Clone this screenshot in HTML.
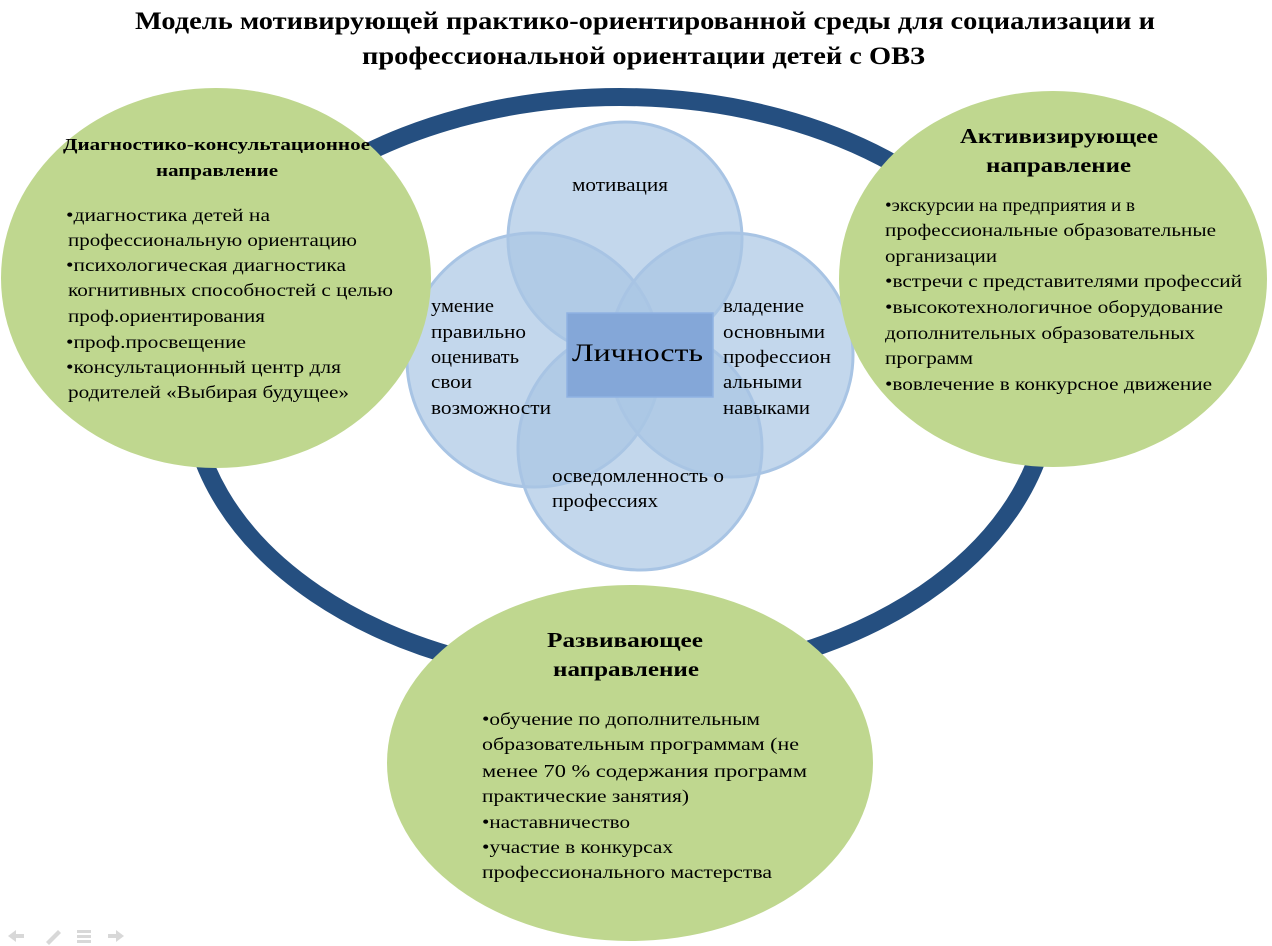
<!DOCTYPE html>
<html><head><meta charset="utf-8"><style>
html,body{margin:0;padding:0;background:#fff;}
svg{display:block;}
text{font-family:"Liberation Serif","Noto Serif CJK SC",serif;fill:#000;}
</style></head><body>
<svg width="1272" height="946" viewBox="0 0 1272 946" xmlns="http://www.w3.org/2000/svg">
<rect width="1272" height="946" fill="#fff"/>
<text x="135" y="29" font-weight="bold" font-size="25" textLength="1020" lengthAdjust="spacingAndGlyphs">Модель мотивирующей практико-ориентированной среды для социализации и</text>
<text x="362" y="64" font-weight="bold" font-size="25" textLength="563" lengthAdjust="spacingAndGlyphs">профессиональной ориентации детей с ОВЗ</text>

<ellipse cx="620" cy="388" rx="430" ry="291" fill="none" stroke="#254f80" stroke-width="18"/>

<!-- center circles -->
<g fill="#a9c6e4" fill-opacity="0.7" stroke="#a8c4e4" stroke-width="3">
<circle cx="625" cy="239" r="117"/>
<circle cx="534" cy="360" r="127"/>
<circle cx="731" cy="355" r="122"/>
<circle cx="640" cy="448" r="122"/>
</g>
<rect x="567" y="313" width="146" height="84" fill="#84a7d8" stroke="#8fb2e2" stroke-width="1.5"/>
<text x="572" y="361" font-size="25" textLength="131" lengthAdjust="spacingAndGlyphs">Личность</text>
<g font-size="19" lengthAdjust="spacingAndGlyphs">
<text x="572" y="191" textLength="96" lengthAdjust="spacingAndGlyphs">мотивация</text>
<text x="431" y="312" textLength="63" lengthAdjust="spacingAndGlyphs">умение</text>
<text x="431" y="338" textLength="95" lengthAdjust="spacingAndGlyphs">правильно</text>
<text x="431" y="363" textLength="88" lengthAdjust="spacingAndGlyphs">оценивать</text>
<text x="431" y="388" textLength="41" lengthAdjust="spacingAndGlyphs">свои</text>
<text x="431" y="414" textLength="120" lengthAdjust="spacingAndGlyphs">возможности</text>
<text x="723" y="312" textLength="81" lengthAdjust="spacingAndGlyphs">владение</text>
<text x="723" y="338" textLength="102" lengthAdjust="spacingAndGlyphs">основными</text>
<text x="723" y="363" textLength="108" lengthAdjust="spacingAndGlyphs">профессион</text>
<text x="723" y="388" textLength="79" lengthAdjust="spacingAndGlyphs">альными</text>
<text x="723" y="414" textLength="87" lengthAdjust="spacingAndGlyphs">навыками</text>
<text x="552" y="482" textLength="172" lengthAdjust="spacingAndGlyphs">осведомленность о</text>
<text x="552" y="507" textLength="106" lengthAdjust="spacingAndGlyphs">профессиях</text>
</g>

<!-- left green -->
<ellipse cx="216" cy="278" rx="215" ry="190" fill="#bfd78f"/>
<text x="63" y="150" font-weight="bold" font-size="17" textLength="307" lengthAdjust="spacingAndGlyphs">Диагностико-консультационное</text>
<text x="156" y="176" font-weight="bold" font-size="17" textLength="122" lengthAdjust="spacingAndGlyphs">направление</text>
<g font-size="18">
<text x="66" y="221" textLength="204" lengthAdjust="spacingAndGlyphs">•диагностика детей на</text>
<text x="68" y="246" textLength="289" lengthAdjust="spacingAndGlyphs">профессиональную ориентацию</text>
<text x="66" y="271" textLength="280" lengthAdjust="spacingAndGlyphs">•психологическая диагностика</text>
<text x="68" y="296" textLength="325" lengthAdjust="spacingAndGlyphs">когнитивных способностей с целью</text>
<text x="68" y="322" textLength="197" lengthAdjust="spacingAndGlyphs">проф.ориентирования</text>
<text x="66" y="348" textLength="180" lengthAdjust="spacingAndGlyphs">•проф.просвещение</text>
<text x="66" y="373" textLength="275" lengthAdjust="spacingAndGlyphs">•консультационный центр для</text>
<text x="68" y="398" textLength="281" lengthAdjust="spacingAndGlyphs">родителей «Выбирая будущее»</text>
</g>

<!-- right green -->
<ellipse cx="1053" cy="279" rx="214" ry="188" fill="#bfd78f"/>
<text x="960" y="143" font-weight="bold" font-size="21" textLength="198" lengthAdjust="spacingAndGlyphs">Активизирующее</text>
<text x="986" y="172" font-weight="bold" font-size="21" textLength="145" lengthAdjust="spacingAndGlyphs">направление</text>
<g font-size="18">
<text x="885" y="211" textLength="250" lengthAdjust="spacingAndGlyphs">•экскурсии на предприятия и в</text>
<text x="885" y="236" textLength="331" lengthAdjust="spacingAndGlyphs">профессиональные образовательные</text>
<text x="885" y="262" textLength="112" lengthAdjust="spacingAndGlyphs">организации</text>
<text x="885" y="287" textLength="357" lengthAdjust="spacingAndGlyphs">•встречи с представителями профессий</text>
<text x="885" y="313" textLength="338" lengthAdjust="spacingAndGlyphs">•высокотехнологичное оборудование</text>
<text x="885" y="339" textLength="310" lengthAdjust="spacingAndGlyphs">дополнительных образовательных</text>
<text x="885" y="364" textLength="88" lengthAdjust="spacingAndGlyphs">программ</text>
<text x="885" y="390" textLength="327" lengthAdjust="spacingAndGlyphs">•вовлечение в конкурсное движение</text>
</g>

<!-- bottom green -->
<ellipse cx="630" cy="763" rx="243" ry="178" fill="#bfd78f"/>
<text x="547" y="647" font-weight="bold" font-size="21" textLength="156" lengthAdjust="spacingAndGlyphs">Развивающее</text>
<text x="553" y="676" font-weight="bold" font-size="21" textLength="146" lengthAdjust="spacingAndGlyphs">направление</text>
<g font-size="18">
<text x="482" y="725" textLength="278" lengthAdjust="spacingAndGlyphs">•обучение по дополнительным</text>
<text x="482" y="750" textLength="317" lengthAdjust="spacingAndGlyphs">образовательным программам (не</text>
<text x="482" y="777" textLength="325" lengthAdjust="spacingAndGlyphs">менее 70 % содержания программ</text>
<text x="482" y="802" textLength="207" lengthAdjust="spacingAndGlyphs">практические занятия)</text>
<text x="482" y="828" textLength="148" lengthAdjust="spacingAndGlyphs">•наставничество</text>
<text x="482" y="853" textLength="191" lengthAdjust="spacingAndGlyphs">•участие в конкурсах</text>
<text x="482" y="878" textLength="290" lengthAdjust="spacingAndGlyphs">профессионального мастерства</text>
</g>

<!-- nav icons -->
<g fill="#d8d8d8">
<polygon points="8,936 16,930 16,942"/>
<rect x="16" y="934" width="8" height="4"/>
<polygon points="46,942 58,930 61,933 49,945"/>
<rect x="77" y="930" width="14" height="3"/><rect x="77" y="935" width="14" height="3"/><rect x="77" y="940" width="14" height="3"/>
<rect x="108" y="934" width="8" height="4"/>
<polygon points="124,936 116,930 116,942"/>
</g>
</svg>
</body></html>
